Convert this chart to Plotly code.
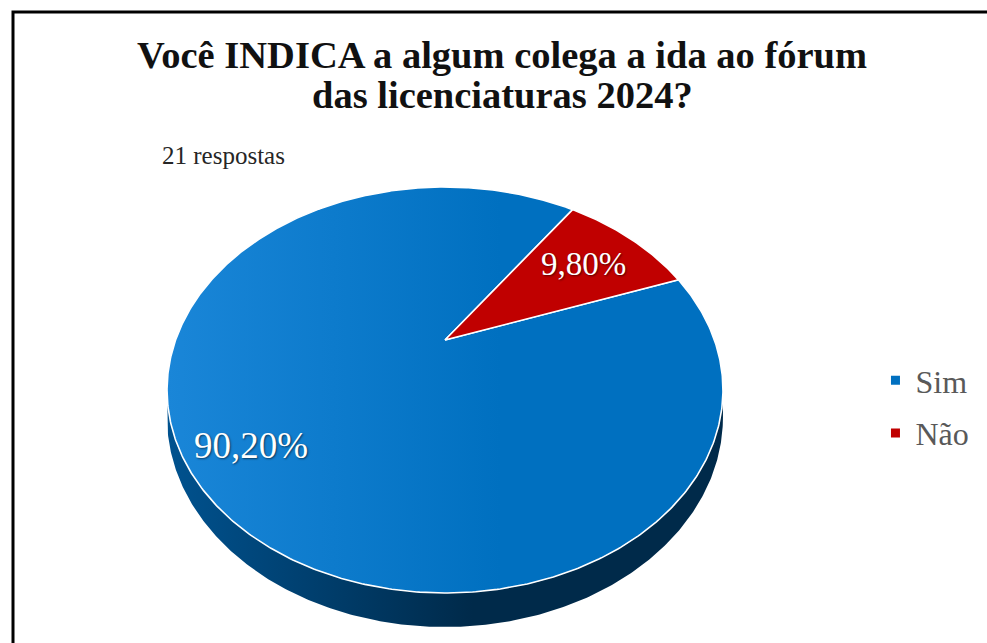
import math
import plotly.graph_objects as go

# ---- data ----
labels = ["Sim", "Não"]
values = [90.2, 9.8]
title_lines = ["Você INDICA a algum colega a ida ao fórum", "das licenciaturas 2024?"]
subtitle = "21 respostas"

# ---- styles ----
top_colors = [["#1a86d8", "#0070c0"], ["#c00000", "#c00000"]]
side_colors = [["#00528f", "#002a4a"], ["#7a0000", "#5a0000"]]
legend_colors = ["#0070c0", "#c00000"]
SERIF = "Liberation Serif"

# geometry of the projected (perspective) pie, in pixel-like axis units
CX, CY = 445.0, 340.0
A, B, K = 269.4, 190.7, 0.2463
DEPTH = 25.6
START = 70.0  # first slice angle, degrees clockwise from 12 o'clock
LABEL_R = [0.80, 0.72]
LABEL_SIZE = [37, 33]


def proj(phi, h=0.0):
    r = math.radians(phi)
    p, q = math.cos(r), math.sin(r)
    s = 1.0 / (1.0 - K * q)
    return CX + A * p * s, CY + B * q * s + h * s


def arc(a0, a1, h=0.0, n=None):
    if n is None:
        n = max(2, int(abs(a1 - a0) * 2))
    xs, ys = [], []
    for i in range(n + 1):
        x, y = proj(a0 + (a1 - a0) * i / n, h)
        xs.append(x)
        ys.append(y)
    return xs, ys


total = sum(values)
spans = []
a = START - 90.0
for v in values:
    sweep = 360.0 * v / total
    spans.append((a, a + sweep))
    a += sweep

fig = go.Figure()

# visible front arc of the side wall
vis0 = math.degrees(math.asin(K))
vis1 = 180.0 - vis0

# side walls
for i, (a0, a1) in enumerate(spans):
    for shift in (-360.0, 0.0, 360.0):
        lo = max(a0 + shift, vis0)
        hi = min(a1 + shift, vis1)
        if hi > lo:
            tx, ty = arc(lo, hi)
            bx, by = arc(hi, lo, DEPTH)
            fig.add_trace(go.Scatter(
                x=tx + bx + [tx[0]], y=ty + by + [ty[0]],
                mode="lines", fill="toself", line=dict(width=0),
                fillgradient=dict(type="horizontal",
                                  colorscale=[[0, side_colors[i][0]], [0.55, side_colors[i][1]], [1, side_colors[i][1]]]),
                hoverinfo="skip", showlegend=False))

# top faces
for i, (a0, a1) in enumerate(spans):
    xs, ys = arc(a0, a1)
    fig.add_trace(go.Scatter(
        x=[CX] + xs + [CX], y=[CY] + ys + [CY],
        mode="lines", fill="toself", line=dict(color="white", width=1.6),
        fillgradient=dict(type="horizontal",
                          colorscale=[[0, top_colors[i][0]], [0.6, top_colors[i][1]], [1, top_colors[i][1]]]),
        hoverinfo="text", text=labels[i], showlegend=False))

# data labels
for i, (a0, a1) in enumerate(spans):
    mid = (a0 + a1) / 2.0
    r = math.radians(mid)
    p, q = LABEL_R[i] * math.cos(r), LABEL_R[i] * math.sin(r)
    s = 1.0 / (1.0 - K * q)
    lx, ly = CX + A * p * s, CY + B * q * s
    pct = 100.0 * values[i] / total
    fig.add_annotation(x=lx, y=ly, text=f"{pct:.2f}%".replace(".", ","), showarrow=False,
                       font=dict(family=SERIF, size=LABEL_SIZE[i], color="white",
                                 shadow="1px 1px 2px rgba(0,0,0,0.55)"))

# legend entries
for i, lab in enumerate(labels):
    fig.add_trace(go.Scatter(
        x=[None], y=[None], mode="markers", name=lab, legendgroup=lab,
        marker=dict(symbol="square", size=9, color=legend_colors[i])))

# title (two lines) and subtitle
fig.add_annotation(x=502, y=55, text="<b>" + title_lines[0] + "</b>", showarrow=False,
                   font=dict(family=SERIF, size=38.5, color="#111111"))
fig.add_annotation(x=502, y=95, text="<b>" + title_lines[1] + "</b>", showarrow=False,
                   font=dict(family=SERIF, size=38.5, color="#111111"))
fig.add_annotation(x=160, y=155, text=subtitle, showarrow=False, xanchor="left",
                   font=dict(family=SERIF, size=25, color="#262626"))

fig.add_shape(type="rect", x0=13, y0=12, x1=1400, y1=1400,
              line=dict(color="black", width=3), layer="above")

fig.update_layout(
    width=987, height=643,
    margin=dict(l=0, r=0, t=0, b=0),
    paper_bgcolor="white", plot_bgcolor="white",
    xaxis=dict(range=[0, 987], visible=False, fixedrange=True),
    yaxis=dict(range=[643, 0], visible=False, fixedrange=True),
    legend=dict(x=0.887, y=0.367, xanchor="left", yanchor="middle",
                font=dict(family=SERIF, size=32, color="#595959"),
                tracegroupgap=8, itemwidth=30, bgcolor="rgba(0,0,0,0)"),
    showlegend=True,
)

fig.write_html("out.html", config={"displayModeBar": False},
               post_script="document.body.style.margin='0';document.body.style.overflow='hidden';")
